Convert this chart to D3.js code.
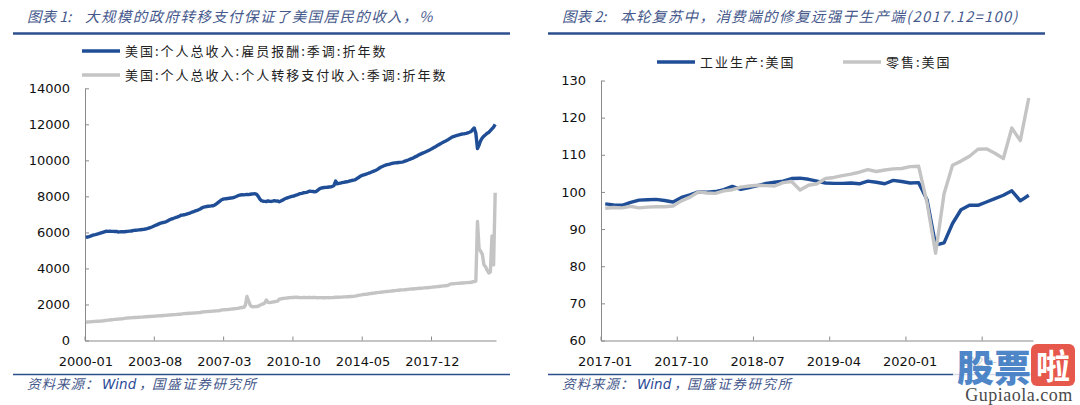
<!DOCTYPE html>
<html><head><meta charset="utf-8">
<script src="https://cdn.jsdelivr.net/npm/d3@7"></script>
<style>
html,body{margin:0;padding:0;background:#fff;}
svg{display:block;}
</style></head><body>
<svg id="c" width="1080" height="405"></svg>
<script>
// ---------- categories ----------
function monthSeq(y, m, n){ const a=[]; for(let k=0;k<n;k++){ const t=m-1+k; a.push((y+Math.floor(t/12))+"-"+String(t%12+1).padStart(2,"0")); } return a; }
const incomeMonths = monthSeq(2000,1,255);
const recoveryMonths = monthSeq(2017,1,51);
const incomeTickLabels = ["2000-01","2003-08","2007-03","2010-10","2014-05","2017-12"];
const recoveryTickLabels = ["2017-01","2017-10","2018-07","2019-04","2020-01","2020-10"];
const incomeYTicks = [0,2000,4000,6000,8000,10000,12000,14000];
const recoveryYTicks = [60,70,80,90,100,110,120,130];

// ---------- series ----------
const compensation = [
5720,5745,5770,5800,5830,5860,5880,5905,5930,5960,5990,6020,
6050,6065,6060,6070,6060,6055,6050,6060,6020,6030,6040,6035,
6040,6050,6060,6070,6080,6095,6110,6120,6130,6140,6150,6160,
6170,6190,6210,6240,6270,6300,6340,6380,6420,6460,6500,6530,
6550,6570,6600,6650,6700,6740,6770,6800,6830,6860,6900,6950,
6960,6980,7000,7030,7060,7090,7130,7160,7190,7220,7260,7300,
7360,7400,7420,7440,7450,7460,7470,7480,7520,7580,7650,7720,
7800,7840,7860,7870,7880,7900,7910,7920,7950,7980,8020,8060,
8080,8090,8085,8100,8110,8100,8120,8130,8140,8150,8110,8000,
7850,7760,7730,7720,7710,7750,7730,7720,7740,7760,7740,7750,
7700,7740,7790,7840,7880,7920,7950,7980,8000,8020,8050,8080,
8120,8150,8170,8200,8210,8220,8260,8290,8280,8270,8250,8280,
8350,8420,8460,8480,8490,8500,8510,8520,8530,8560,8610,8850,
8700,8720,8740,8760,8780,8800,8810,8830,8860,8880,8900,8920,
8980,9030,9100,9150,9180,9210,9240,9270,9300,9340,9380,9410,
9450,9500,9560,9620,9660,9700,9730,9760,9780,9800,9830,9850,
9860,9870,9880,9890,9900,9920,9960,9990,10020,10060,10090,10120,
10180,10220,10270,10320,10360,10400,10440,10480,10520,10560,10610,10660,
10710,10760,10820,10870,10920,10970,11020,11060,11110,11160,11220,11280,
11320,11350,11380,11400,11430,11450,11470,11480,11500,11530,11560,11600,
11700,11800,11500,10650,10850,11100,11250,11350,11420,11500,11550,11650,
11750,11850,12000];
const transfers = [
1020,1030,1035,1040,1050,1055,1060,1065,1070,1075,1085,1090,
1110,1120,1130,1140,1150,1160,1170,1180,1185,1195,1200,1210,
1230,1240,1250,1255,1260,1270,1275,1280,1285,1290,1295,1300,
1310,1315,1320,1330,1335,1340,1350,1355,1360,1365,1370,1375,
1390,1395,1400,1410,1415,1420,1430,1435,1440,1450,1455,1460,
1480,1490,1495,1500,1510,1515,1520,1530,1535,1540,1550,1555,
1580,1590,1595,1600,1610,1615,1620,1630,1640,1645,1650,1660,
1690,1700,1710,1715,1720,1730,1740,1750,1760,1770,1780,1790,
1820,1830,1840,1950,2440,2200,1960,1880,1870,1880,1890,1900,
1960,2000,2030,2080,2250,2120,2100,2120,2140,2150,2170,2190,
2290,2310,2330,2340,2350,2360,2370,2380,2390,2390,2400,2400,
2390,2380,2380,2390,2390,2380,2390,2390,2380,2390,2390,2380,
2370,2380,2380,2370,2370,2380,2380,2370,2380,2380,2390,2400,
2400,2400,2410,2410,2420,2420,2430,2430,2440,2440,2450,2460,
2480,2500,2520,2530,2550,2560,2570,2580,2600,2610,2620,2630,
2650,2660,2670,2680,2690,2700,2710,2720,2730,2740,2750,2760,
2770,2780,2790,2800,2810,2810,2820,2830,2840,2850,2860,2860,
2870,2880,2890,2900,2900,2910,2920,2930,2930,2940,2950,2960,
2970,2980,2990,3000,3010,3020,3030,3040,3050,3070,3130,3140,
3150,3160,3170,3170,3180,3190,3190,3200,3210,3210,3220,3230,
3260,3270,3300,6610,5100,4950,4800,4200,4100,3900,3750,3800,
5800,4200,8200];
const industrial = [
96.8,96.5,96.4,97.2,97.8,97.9,98.0,97.7,97.3,98.5,99.2,100.0,
99.9,100.1,100.6,101.5,100.7,101.2,101.7,102.3,102.6,102.9,103.6,103.7,
103.4,102.9,102.4,102.3,102.3,102.4,102.2,102.9,102.6,102.2,103.1,102.8,
102.4,102.5,97.8,85.7,86.3,91.5,95.2,96.4,96.4,97.3,98.2,99.1,
100.3,97.6,99.1];
const retail = [
95.6,95.8,95.7,96.1,95.7,95.9,96.0,96.0,96.2,97.6,98.6,100.0,
99.7,99.6,100.3,100.6,101.3,101.6,101.8,101.7,101.6,102.5,102.8,100.5,
101.8,102.2,103.6,103.9,104.4,104.8,105.3,106.0,105.5,105.9,106.2,106.3,
106.8,106.9,97.0,83.5,99.5,107.2,108.3,109.6,111.5,111.6,110.4,109.0,
117.2,113.8,125.3];

const leftTitleHead = "图表 1:";
const leftTitle = "大规模的政府转移支付保证了美国居民的收入，%";
const rightTitleHead = "图表 2:";
const rightTitle = "本轮复苏中，消费端的修复远强于生产端(2017.12=100)";
const leftLegend = ["美国:个人总收入:雇员报酬:季调:折年数","美国:个人总收入:个人转移支付收入:季调:折年数"];
const rightLegend = ["工业生产:美国","零售:美国"];

// ---------- styles ----------
const BLUE = "#1f4e96", GRAY = "#c4c4c4", RULE = "#2d4f8e", TITLE = "#46598c";
const CJK = "'Noto Sans CJK SC','Noto Sans',sans-serif";
const NUM = "'DejaVu Sans',sans-serif";

const svg = d3.select("#c");

function rules(x0, x1){
  svg.append("line").attr("x1",x0).attr("x2",x1).attr("y1",33.5).attr("y2",33.5)
    .attr("stroke",RULE).attr("stroke-width",2.5);
  svg.append("line").attr("x1",x0).attr("x2",x1).attr("y1",374.5).attr("y2",374.5)
    .attr("stroke",RULE).attr("stroke-width",1.6);
}
function title(x, head, rest){
  const t = svg.append("text").attr("y",21.5).attr("font-family",CJK).attr("font-style","italic")
    .attr("font-size",14.5).attr("fill",TITLE);
  t.append("tspan").attr("x",x).text(head);
  t.append("tspan").attr("x",x+58).attr("letter-spacing",1.4).text(rest);
}
function source(x){
  const t = svg.append("text").attr("y",389).attr("font-family",CJK).attr("font-style","italic")
    .attr("font-size",13.5).attr("fill",TITLE);
  t.append("tspan").attr("x",x).attr("letter-spacing",1).text("资料来源：");
  t.append("tspan").attr("x",x+75).attr("font-family",NUM).attr("fill","#2a4a96").text("Wind");
  t.append("tspan").attr("x",x+112).text("，");
  t.append("tspan").attr("x",x+125).attr("letter-spacing",1.6).text("国盛证券研究所");
}
function legendItem(x, y, color, label){
  svg.append("line").attr("x1",x).attr("x2",x+38).attr("y1",y).attr("y2",y)
    .attr("stroke",color).attr("stroke-width",3.5);
  svg.append("text").attr("x",x+43).attr("y",y+4.5).attr("font-family",CJK)
    .attr("font-size",13).attr("letter-spacing",2).attr("fill","#222").text(label);
}

function panel(opts){
  const {cats, x0, x1, yDomain, yRange, yTicks, xTicks, series} = opts;
  const xb = d3.scaleBand().domain(cats).range([x0, x1]).padding(0);
  const bw = xb.bandwidth();
  const y = d3.scaleLinear().domain(yDomain).range(yRange);
  // y axis
  const ya = svg.append("g").attr("transform",`translate(${x0},0)`)
    .call(d3.axisLeft(y).tickValues(yTicks).tickSize(-4).tickSizeOuter(0).tickPadding(15).tickFormat(d3.format("d")));
  ya.select(".domain").attr("stroke","#8a8a8a");
  ya.selectAll(".tick line").attr("stroke","#8a8a8a");
  ya.selectAll("text").attr("font-family",NUM).attr("font-size",13).attr("fill","#111");
  // x axis: labels at category centres, ticks at category boundaries
  const xa = svg.append("g").attr("transform",`translate(0,${yRange[0]})`)
    .call(d3.axisBottom(xb).tickValues(xTicks).tickSize(0).tickPadding(16).tickSizeOuter(0));
  xa.select(".domain").attr("stroke","#8a8a8a");
  xa.selectAll("text").attr("font-family",NUM).attr("font-size",13).attr("fill","#111");
  svg.append("g").selectAll("line").data(xTicks).join("line")
    .attr("x1",d=>xb(d)).attr("x2",d=>xb(d)).attr("y1",yRange[0]).attr("y2",yRange[0]-4)
    .attr("stroke","#8a8a8a");
  // lines
  series.forEach(s=>{
    const line = d3.line().x((d,i)=>xb(cats[i])+bw/2).y(d=>y(d));
    svg.append("path").datum(s.values).attr("d",line).attr("fill","none")
      .attr("stroke",s.color).attr("stroke-width",3.4).attr("stroke-linejoin","round");
  });
}

// ---------- left panel ----------
rules(13, 510);
title(27, leftTitleHead, leftTitle);
legendItem(82, 51, BLUE, leftLegend[0]);
legendItem(82, 75, GRAY, leftLegend[1]);
panel({cats:incomeMonths, x0:85, x1:496, yDomain:[0,14000], yRange:[340.5,88.3],
  yTicks:incomeYTicks, xTicks:incomeTickLabels,
  series:[{values:compensation,color:BLUE},{values:transfers,color:GRAY}]});
source(27);

// ---------- right panel ----------
rules(548, 1045);
title(562, rightTitleHead, rightTitle);
legendItem(657, 62, BLUE, rightLegend[0]);
legendItem(843, 62, GRAY, rightLegend[1]);
panel({cats:recoveryMonths, x0:601, x1:1033, yDomain:[60,130], yRange:[340.5,80.5],
  yTicks:recoveryYTicks, xTicks:recoveryTickLabels,
  series:[{values:industrial,color:BLUE},{values:retail,color:GRAY}]});
source(562);

// ---------- watermark ----------
const wm = svg.append("g");
wm.append("rect").attr("x",953).attr("y",343).attr("width",127).attr("height",62).attr("fill","#fff").attr("opacity",0.8);
wm.append("text").attr("x",957).attr("y",382).attr("font-family",CJK).attr("font-weight",900)
  .attr("font-size",37).attr("fill","#3f7cc4").attr("opacity",0.92).text("股票");
wm.append("rect").attr("x",1031).attr("y",344).attr("width",44).attr("height",42).attr("rx",6)
  .attr("fill","#e4493d").attr("opacity",0.92);
wm.append("text").attr("x",1053).attr("y",379).attr("text-anchor","middle").attr("font-family",CJK)
  .attr("font-weight",700).attr("font-size",34).attr("fill","#fff").text("啦");
wm.append("text").attr("x",1019).attr("y",401).attr("text-anchor","middle").attr("font-family","'Liberation Serif',serif")
  .attr("font-size",18).attr("letter-spacing",0.5).attr("fill","#4a4a4a").text("Gupiaola.com");
</script>
</body></html>
